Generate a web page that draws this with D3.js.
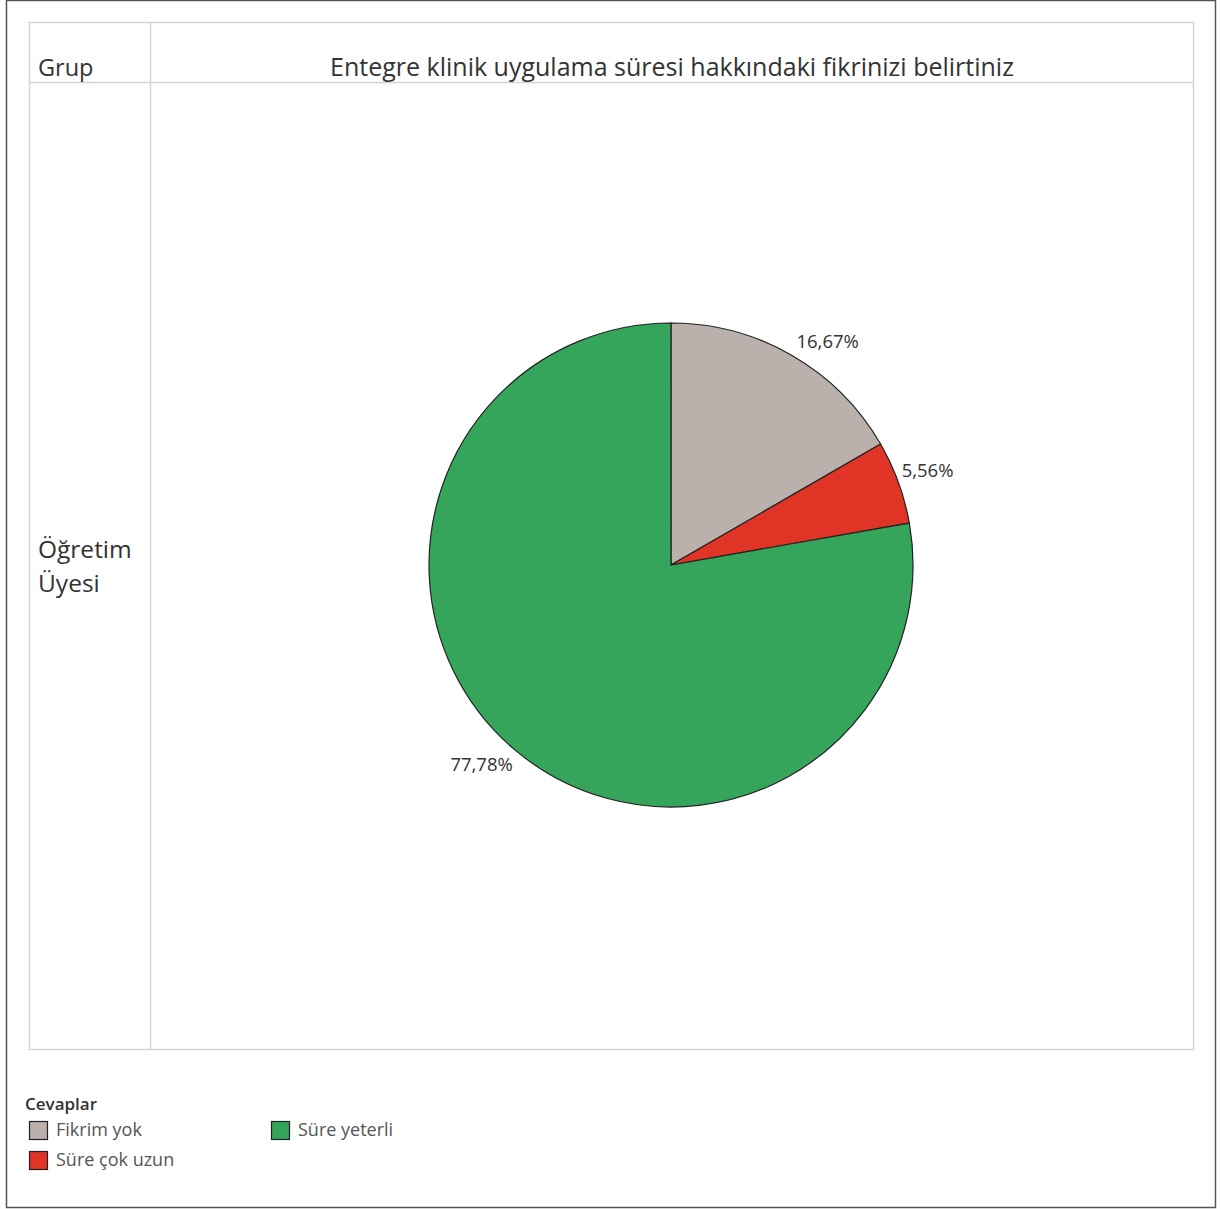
<!DOCTYPE html>
<html><head><meta charset="utf-8">
<script src="https://cdn.jsdelivr.net/npm/d3@7"></script>
<style>
body{margin:0;background:#fff;}
text{font-family:"Open Sans","Noto Sans",sans-serif;}
</style></head>
<body>
<svg id="chart" width="1221" height="1209"></svg>
<script>
const categories = ["Fikrim yok", "Süre çok uzun", "Süre yeterli"];
const values = [16.67, 5.56, 77.78];
const labels = ["16,67%", "5,56%", "77,78%"];
const colors = ["#bab0ac", "#e03426", "#34a55b"];
const groupLabel = ["Öğretim", "Üyesi"];
const title = "Entegre klinik uygulama süresi hakkındaki fikrinizi belirtiniz";
const legendTitle = "Cevaplar";

const svg = d3.select("#chart");
const textColor = "#333";
const gridColor = "#d4d4d4";

// outer frame
svg.append("rect").attr("x",6.5).attr("y",0.5).attr("width",1209).attr("height",1207)
  .attr("fill","none").attr("stroke","#555").attr("stroke-width",1.5);

// table
const T = {left:29.5, mid:150.5, right:1193.5, top:22.5, head:82.5, bottom:1049.5};
const g = svg.append("g").attr("stroke",gridColor).attr("stroke-width",1.5).attr("fill","none");
g.append("rect").attr("x",T.left).attr("y",T.top).attr("width",T.right-T.left).attr("height",T.bottom-T.top);
g.append("line").attr("x1",T.mid).attr("x2",T.mid).attr("y1",T.top).attr("y2",T.bottom);
g.append("line").attr("x1",T.left).attr("x2",T.right).attr("y1",T.head).attr("y2",T.head);

svg.append("text").attr("x",38).attr("y",76).attr("font-size",23.5).attr("fill",textColor).text("Grup");
svg.append("text").attr("x",(T.mid+T.right)/2).attr("y",76).attr("text-anchor","middle")
  .attr("font-size",25).attr("fill",textColor).text(title);
svg.append("text").attr("x",38).attr("y",558).attr("font-size",24.5).attr("fill",textColor)
  .selectAll("tspan").data(groupLabel).join("tspan").attr("x",38).attr("dy",(d,i)=>i?34:0).text(d=>d);

// pie
const cx = 671, cy = 565, R = 242;
const pie = d3.pie().sort(null).value(d=>d);
const arcs = pie(values);
const arc = d3.arc().innerRadius(0).outerRadius(R);
const pg = svg.append("g").attr("transform",`translate(${cx},${cy})`);
pg.selectAll("path").data(arcs).join("path").attr("d",arc)
  .attr("fill",(d,i)=>colors[i]).attr("stroke","#222").attr("stroke-width",1.2);

// labels just outside each slice
const angOffset = [0.085, -0.01, 0.065];
const labelR = R + 32;
pg.selectAll("text.lbl").data(arcs).join("text").attr("class","lbl")
  .attr("x",(d,i)=>Math.sin((d.startAngle+d.endAngle)/2+angOffset[i])*labelR)
  .attr("y",(d,i)=>-Math.cos((d.startAngle+d.endAngle)/2+angOffset[i])*labelR + 3)
  .attr("text-anchor","middle").attr("dominant-baseline","middle")
  .attr("font-size",18.5).attr("fill",textColor).text((d,i)=>labels[i]);

// legend
svg.append("text").attr("x",25).attr("y",1110).attr("font-size",17).attr("font-weight",600)
  .attr("fill",textColor).text(legendTitle);
const legPos = [[29,1121],[29,1151],[271,1121]];
const lg = svg.selectAll("g.leg").data(categories).join("g").attr("class","leg")
  .attr("transform",(d,i)=>`translate(${legPos[i][0]},${legPos[i][1]})`);
lg.append("rect").attr("x",0.5).attr("y",0.5).attr("width",18).attr("height",18)
  .attr("fill",(d,i)=>colors[i]).attr("stroke","#222").attr("stroke-width",1.2);
lg.append("text").attr("x",27).attr("y",10).attr("dominant-baseline","middle")
  .attr("font-size",18).attr("fill","#555").text(d=>d);
</script>
</body></html>
